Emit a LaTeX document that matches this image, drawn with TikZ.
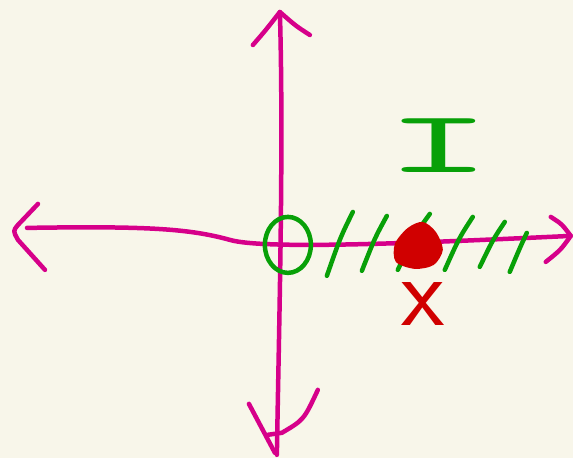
\documentclass[tikz,border=0pt]{standalone}
\usepackage{tikz}
\definecolor{bgcream}{RGB}{248,246,234}
\definecolor{axispink}{RGB}{214,0,138}
\definecolor{hatchgreen}{RGB}{8,160,8}
\definecolor{dotred}{RGB}{208,0,0}

\begin{document}
\begin{tikzpicture}[x=1pt, y=-1pt,
  pen/.style={line width=4.5pt, line cap=round, line join=round},
  axis/.style={pen, draw=axispink},
  hatch/.style={pen, draw=hatchgreen},
  lbl/.style={inner sep=0pt}
]
\fill[bgcream] (0,0) rectangle (573,458);

% axis ends
\coordinate (west) at (27,228);
\coordinate (east) at (571,236);
\coordinate (north) at (280,12);
\coordinate (south) at (277,455);

\draw[axis] (west) .. controls (150,226) and (190,229) .. (230,240)
  .. controls (265,250) and (420,243) .. (east);
\draw[axis] (north) .. controls (284,150) and (279,330) .. (south);

% hand-drawn heads
\draw[axis] (38,204) -- (18,225) .. controls (13,231) .. (18,240) -- (45,270);
\draw[axis] (551,217) .. controls (562,224) .. (east) .. controls (561,250) .. (546,262);
\draw[axis] (253,45) .. controls (266,30) .. (north) .. controls (296,26) .. (310,35);
\draw[axis] (249,404) -- (275,453);
\draw[axis] (268,435) -- (282,433) .. controls (304,420) .. (318,390);

% origin and shaded half-line
\draw[hatch] (288,245) ellipse [x radius=23, y radius=28];
\foreach \xa/\ya/\xb/\yb in {327/276/353/212, 362/271/387/216, 398/270/430/214,
    445/270/473/217, 480/267/505/222, 510/272/527/233}
  \draw[hatch] (\xa,\ya) .. controls (\xa+0.4*\xb-0.4*\xa+3,\ya+0.6*\yb-0.6*\ya) .. (\xb,\yb);

% the point
\fill[dotred] plot[smooth cycle] coordinates {(423,222) (436,232) (443,250)
  (434,265) (415,269) (396,262) (395,244) (408,228)};

\node[lbl, text=hatchgreen, font=\ttfamily\fontsize{88}{88}\selectfont, xscale=2.4] (intv) at (439,146) {I};
\node[lbl, text=dotred, font=\sffamily\fontsize{100}{100}\selectfont] (xlab) at (423,304) {x};
\end{tikzpicture}
\end{document}
